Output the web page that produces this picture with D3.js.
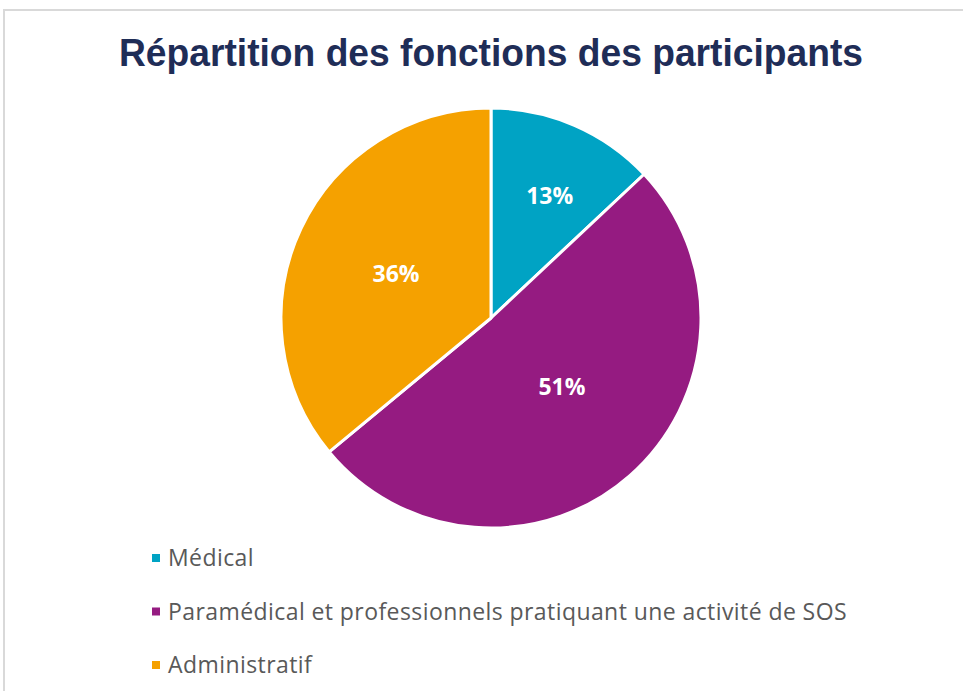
<!DOCTYPE html>
<html><head><meta charset="utf-8">
<script src="https://cdn.jsdelivr.net/npm/d3@7"></script>
<style>body{margin:0;background:#fff}svg{display:block}</style>
</head><body>
<svg id="c" width="963" height="691"></svg>
<script>
const title = "Répartition des fonctions des participants";
const categories = ["Médical", "Paramédical et professionnels pratiquant une activité de SOS", "Administratif"];
const values = [13, 51, 36];
const colors = ["#00a3c4", "#951b81", "#f5a100"];

const svg = d3.select("#c");
svg.append("rect").attr("x",4).attr("y",10).attr("width",970).attr("height",700)
  .attr("fill","#fff").attr("stroke","#d9d9d9").attr("stroke-width",2);

svg.append("text").attr("x",491).attr("y",66).attr("text-anchor","middle")
  .attr("font-family","Liberation Sans, Arial, sans-serif").attr("font-weight","bold")
  .attr("font-size",38).attr("fill","#1f2d57").attr("textLength",744).attr("lengthAdjust","spacingAndGlyphs")
  .text(title);

const cx = 491, cy = 318, R = 210;
const pie = d3.pie().sort(null).value(d => d)(values);
const arc = d3.arc().innerRadius(0).outerRadius(R);
const g = svg.append("g").attr("transform",`translate(${cx},${cy})`);
g.selectAll("path").data(pie).join("path")
  .attr("d",arc).attr("fill",(d,i)=>colors[i])
  .attr("stroke","#fff").attr("stroke-width",3).attr("stroke-linejoin","round");

const labelR = [0.645, 0.47, 0.5];
const labelDA = [0.04, -0.08, 0];
g.selectAll("text").data(pie).join("text")
  .attr("transform",(d,i)=>{
    const a=(d.startAngle+d.endAngle)/2+labelDA[i], r=R*labelR[i];
    return `translate(${r*Math.sin(a)},${-r*Math.cos(a)})`;})
  .attr("text-anchor","middle").attr("dy","0.36em")
  .attr("font-family","Open Sans, sans-serif").attr("font-weight","bold").attr("font-size",23)
  .attr("fill","#fff").text(d=>d.data+"%");

const leg = svg.append("g");
const ly = d3.scalePoint().domain(categories).range([558,665]);
categories.forEach((c,i)=>{
  leg.append("rect").attr("x",152).attr("y",ly(c)-4).attr("width",8).attr("height",8).attr("fill",colors[i]);
  leg.append("text").attr("x",168).attr("y",ly(c)).attr("dy","0.36em")
    .attr("font-family","Open Sans, sans-serif").attr("font-size",23).attr("letter-spacing",0.42)
    .attr("fill","#595959").text(c);
});
</script>
</body></html>
